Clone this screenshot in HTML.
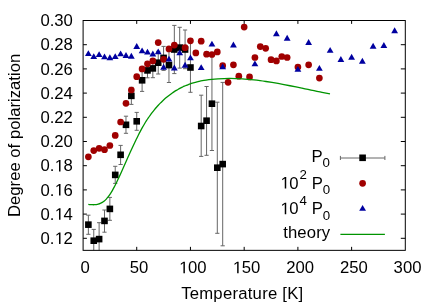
<!DOCTYPE html>
<html><head><meta charset="utf-8"><title>plot</title>
<style>
html,body{margin:0;padding:0;background:#fff;}
body{width:436px;height:305px;overflow:hidden;}
svg{display:block;will-change:transform;}
text{font-family:"Liberation Sans",sans-serif;fill:#000;}
</style></head><body>
<svg width="436" height="305" viewBox="0 0 436 305">
<rect x="0" y="0" width="436" height="305" fill="#fff"/>
<defs><clipPath id="c"><rect x="83.10" y="20.50" width="322.20" height="229.85"/></clipPath></defs>

<g stroke="#000" stroke-width="1" fill="none">
<path d="M136.72 250.35V246.85M136.72 20.50V23.90"/>
<path d="M190.45 250.35V246.85M190.45 20.50V23.90"/>
<path d="M244.18 250.35V246.85M244.18 20.50V23.90"/>
<path d="M297.90 250.35V246.85M297.90 20.50V23.90"/>
<path d="M351.62 250.35V246.85M351.62 20.50V23.90"/>
<path d="M83.10 238.30H86.90M405.30 238.30H400.80"/>
<path d="M83.10 214.10H86.90M405.30 214.10H400.80"/>
<path d="M83.10 189.90H86.90M405.30 189.90H400.80"/>
<path d="M83.10 165.70H86.90M405.30 165.70H400.80"/>
<path d="M83.10 141.50H86.90M405.30 141.50H400.80"/>
<path d="M83.10 117.30H86.90M405.30 117.30H400.80"/>
<path d="M83.10 93.10H86.90M405.30 93.10H400.80"/>
<path d="M83.10 68.90H86.90M405.30 68.90H400.80"/>
<path d="M83.10 44.70H86.90M405.30 44.70H400.80"/>
</g>
<g stroke="#666666" stroke-width="1" fill="none" clip-path="url(#c)">
<path d="M88.37 215.20V234.30M86.27 215.20H90.47M86.27 234.30H90.47"/>
<path d="M93.75 229.40V262.00M91.65 229.40H95.84M91.65 262.00H95.84"/>
<path d="M99.12 222.70V262.00M97.02 222.70H101.22M97.02 262.00H101.22"/>
<path d="M104.49 210.00V232.20M102.39 210.00H106.59M102.39 232.20H106.59"/>
<path d="M109.86 197.40V220.30M107.76 197.40H111.96M107.76 220.30H111.96"/>
<path d="M115.23 166.30V183.40M113.14 166.30H117.33M113.14 183.40H117.33"/>
<path d="M120.61 145.40V164.50M118.51 145.40H122.71M118.51 164.50H122.71"/>
<path d="M125.98 116.20V133.30M123.88 116.20H128.08M123.88 133.30H128.08"/>
<path d="M131.35 87.30V104.40M129.25 87.30H133.45M129.25 104.40H133.45"/>
<path d="M136.72 112.40V130.30M134.62 112.40H138.82M134.62 130.30H138.82"/>
<path d="M142.10 69.50V91.40M140.00 69.50H144.20M140.00 91.40H144.20"/>
<path d="M147.47 63.00V77.80M145.37 63.00H149.57M145.37 77.80H149.57"/>
<path d="M152.84 59.20V77.70M150.74 59.20H154.94M150.74 77.70H154.94"/>
<path d="M158.22 51.30V74.00M156.12 51.30H160.31M156.12 74.00H160.31"/>
<path d="M163.59 46.40V70.40M161.49 46.40H165.69M161.49 70.40H165.69"/>
<path d="M168.96 47.80V82.50M166.86 47.80H171.06M166.86 82.50H171.06"/>
<path d="M174.33 25.40V73.60M172.23 25.40H176.43M172.23 73.60H176.43"/>
<path d="M179.70 27.30V68.10M177.60 27.30H181.80M177.60 68.10H181.80"/>
<path d="M185.08 30.00V68.70M182.98 30.00H187.18M182.98 68.70H187.18"/>
<path d="M190.45 42.60V92.30M188.35 42.60H192.55M188.35 92.30H192.55"/>
<path d="M201.19 95.20V156.40M199.09 95.20H203.29M199.09 156.40H203.29"/>
<path d="M206.57 86.50V155.30M204.47 86.50H208.67M204.47 155.30H208.67"/>
<path d="M211.94 54.40V150.50M209.84 54.40H214.04M209.84 150.50H214.04"/>
<path d="M217.31 102.20V233.30M215.21 102.20H219.41M215.21 233.30H219.41"/>
<path d="M222.69 82.40V245.80M220.59 82.40H224.78M220.59 245.80H224.78"/>
</g>
<g fill="#000">
<rect x="85.07" y="221.35" width="6.60" height="6.60"/>
<rect x="90.45" y="237.40" width="6.60" height="6.60"/>
<rect x="95.82" y="235.80" width="6.60" height="6.60"/>
<rect x="101.19" y="217.60" width="6.60" height="6.60"/>
<rect x="106.56" y="205.60" width="6.60" height="6.60"/>
<rect x="111.94" y="171.60" width="6.60" height="6.60"/>
<rect x="117.31" y="151.50" width="6.60" height="6.60"/>
<rect x="122.68" y="121.50" width="6.60" height="6.60"/>
<rect x="128.05" y="92.55" width="6.60" height="6.60"/>
<rect x="133.42" y="118.00" width="6.60" height="6.60"/>
<rect x="138.80" y="77.00" width="6.60" height="6.60"/>
<rect x="144.17" y="67.10" width="6.60" height="6.60"/>
<rect x="149.54" y="65.10" width="6.60" height="6.60"/>
<rect x="154.91" y="59.40" width="6.60" height="6.60"/>
<rect x="160.29" y="54.60" width="6.60" height="6.60"/>
<rect x="165.66" y="61.80" width="6.60" height="6.60"/>
<rect x="171.03" y="46.20" width="6.60" height="6.60"/>
<rect x="176.40" y="44.30" width="6.60" height="6.60"/>
<rect x="181.78" y="46.20" width="6.60" height="6.60"/>
<rect x="187.15" y="64.20" width="6.60" height="6.60"/>
<rect x="197.89" y="122.70" width="6.60" height="6.60"/>
<rect x="203.27" y="117.40" width="6.60" height="6.60"/>
<rect x="208.64" y="100.40" width="6.60" height="6.60"/>
<rect x="214.01" y="164.40" width="6.60" height="6.60"/>
<rect x="219.38" y="160.80" width="6.60" height="6.60"/>
</g>
<g fill="#a00000">
<circle cx="88.37" cy="156.80" r="3.35"/>
<circle cx="93.75" cy="150.60" r="3.35"/>
<circle cx="99.12" cy="148.30" r="3.35"/>
<circle cx="104.49" cy="149.70" r="3.35"/>
<circle cx="109.86" cy="145.50" r="3.35"/>
<circle cx="115.23" cy="135.45" r="3.35"/>
<circle cx="120.61" cy="122.00" r="3.35"/>
<circle cx="125.98" cy="103.35" r="3.35"/>
<circle cx="131.35" cy="90.00" r="3.35"/>
<circle cx="136.72" cy="76.70" r="3.35"/>
<circle cx="142.10" cy="68.90" r="3.35"/>
<circle cx="147.47" cy="63.80" r="3.35"/>
<circle cx="152.84" cy="60.90" r="3.35"/>
<circle cx="158.22" cy="42.60" r="3.35"/>
<circle cx="163.59" cy="59.30" r="3.35"/>
<circle cx="168.96" cy="48.95" r="3.35"/>
<circle cx="174.33" cy="45.10" r="3.35"/>
<circle cx="185.08" cy="47.70" r="3.35"/>
<circle cx="190.45" cy="40.80" r="3.35"/>
<circle cx="195.82" cy="52.90" r="3.35"/>
<circle cx="201.19" cy="41.20" r="3.35"/>
<circle cx="206.57" cy="54.20" r="3.35"/>
<circle cx="211.94" cy="54.50" r="3.35"/>
<circle cx="217.31" cy="51.95" r="3.35"/>
<circle cx="222.69" cy="65.70" r="3.35"/>
<circle cx="228.06" cy="82.30" r="3.35"/>
<circle cx="233.43" cy="64.80" r="3.35"/>
<circle cx="238.80" cy="76.15" r="3.35"/>
<circle cx="244.18" cy="27.10" r="3.35"/>
<circle cx="249.55" cy="76.90" r="3.35"/>
<circle cx="254.92" cy="57.50" r="3.35"/>
<circle cx="260.29" cy="46.60" r="3.35"/>
<circle cx="265.66" cy="48.30" r="3.35"/>
<circle cx="271.04" cy="59.70" r="3.35"/>
<circle cx="276.41" cy="60.90" r="3.35"/>
<circle cx="281.78" cy="56.50" r="3.35"/>
<circle cx="287.15" cy="57.50" r="3.35"/>
<circle cx="297.90" cy="67.10" r="3.35"/>
<circle cx="308.64" cy="64.80" r="3.35"/>
<circle cx="319.39" cy="78.10" r="3.35"/>
</g>
<g fill="#0000a0">
<path d="M88.37 50.15L91.77 56.05L84.97 56.05Z"/>
<path d="M93.75 53.15L97.15 59.05L90.34 59.05Z"/>
<path d="M99.12 51.15L102.52 57.05L95.72 57.05Z"/>
<path d="M104.49 53.45L107.89 59.35L101.09 59.35Z"/>
<path d="M109.86 54.25L113.26 60.15L106.46 60.15Z"/>
<path d="M115.23 53.15L118.64 59.05L111.83 59.05Z"/>
<path d="M120.61 50.45L124.01 56.35L117.21 56.35Z"/>
<path d="M125.98 52.05L129.38 57.95L122.58 57.95Z"/>
<path d="M131.35 52.75L134.75 58.65L127.95 58.65Z"/>
<path d="M136.72 43.05L140.12 48.95L133.32 48.95Z"/>
<path d="M142.10 47.45L145.50 53.35L138.70 53.35Z"/>
<path d="M147.47 48.65L150.87 54.55L144.07 54.55Z"/>
<path d="M152.84 50.55L156.24 56.45L149.44 56.45Z"/>
<path d="M158.22 48.45L161.62 54.35L154.81 54.35Z"/>
<path d="M163.59 63.85L166.99 69.75L160.19 69.75Z"/>
<path d="M168.96 55.65L172.36 61.55L165.56 61.55Z"/>
<path d="M174.33 64.55L177.73 70.45L170.93 70.45Z"/>
<path d="M179.70 49.35L183.10 55.25L176.30 55.25Z"/>
<path d="M185.08 61.85L188.48 67.75L181.68 67.75Z"/>
<path d="M190.45 54.45L193.85 60.35L187.05 60.35Z"/>
<path d="M201.19 64.15L204.59 70.05L197.79 70.05Z"/>
<path d="M211.94 40.70L215.34 46.60L208.54 46.60Z"/>
<path d="M222.69 63.45L226.09 69.35L219.28 69.35Z"/>
<path d="M233.43 41.60L236.83 47.50L230.03 47.50Z"/>
<path d="M254.92 60.45L258.32 66.35L251.52 66.35Z"/>
<path d="M276.41 30.25L279.81 36.15L273.01 36.15Z"/>
<path d="M287.15 34.75L290.55 40.65L283.75 40.65Z"/>
<path d="M297.90 65.95L301.30 71.85L294.50 71.85Z"/>
<path d="M308.64 39.05L312.04 44.95L305.25 44.95Z"/>
<path d="M319.39 64.95L322.79 70.85L315.99 70.85Z"/>
<path d="M330.13 46.95L333.53 52.85L326.74 52.85Z"/>
<path d="M340.88 56.05L344.28 61.95L337.48 61.95Z"/>
<path d="M351.62 53.75L355.02 59.65L348.23 59.65Z"/>
<path d="M362.37 57.85L365.77 63.75L358.97 63.75Z"/>
<path d="M373.12 42.85L376.51 48.75L369.72 48.75Z"/>
<path d="M383.86 42.05L387.26 47.95L380.46 47.95Z"/>
<path d="M394.61 27.35L398.00 33.25L391.21 33.25Z"/>
</g>
<path d="M88.30 204.36C88.63 204.40 89.63 204.52 90.30 204.58C90.97 204.64 91.63 204.69 92.30 204.71C92.97 204.73 93.63 204.75 94.30 204.72C94.97 204.69 95.63 204.65 96.30 204.55C96.97 204.45 97.63 204.32 98.30 204.14C98.97 203.95 99.63 203.73 100.30 203.44C100.97 203.15 101.63 202.81 102.30 202.40C102.97 201.99 103.63 201.51 104.30 200.96C104.97 200.41 105.63 199.79 106.30 199.08C106.97 198.37 107.63 197.57 108.30 196.70C108.97 195.82 109.63 194.86 110.30 193.83C110.97 192.81 111.63 191.71 112.30 190.55C112.97 189.40 113.63 188.17 114.30 186.90C114.97 185.63 115.63 184.31 116.30 182.96C116.97 181.61 117.63 180.20 118.30 178.78C118.97 177.36 119.63 175.90 120.30 174.43C120.97 172.96 121.63 171.47 122.30 169.97C122.97 168.47 123.63 166.96 124.30 165.46C124.97 163.96 125.63 162.46 126.30 160.96C126.97 159.46 127.63 157.97 128.30 156.48C128.97 154.99 129.63 153.51 130.30 152.04C130.97 150.57 131.63 149.12 132.30 147.68C132.97 146.24 133.63 144.81 134.30 143.41C134.97 142.01 135.63 140.62 136.30 139.26C136.97 137.90 137.63 136.55 138.30 135.24C138.97 133.93 139.63 132.64 140.30 131.38C140.97 130.12 141.63 128.88 142.30 127.69C142.97 126.50 143.63 125.34 144.30 124.22C144.97 123.10 145.63 122.00 146.30 120.95C146.97 119.90 147.63 118.88 148.30 117.89C148.97 116.90 149.63 115.95 150.30 115.02C150.97 114.09 151.63 113.20 152.30 112.33C152.97 111.46 153.63 110.62 154.30 109.81C154.97 109.00 155.63 108.21 156.30 107.45C156.97 106.69 157.63 105.95 158.30 105.23C158.97 104.51 159.63 103.82 160.30 103.15C160.97 102.48 161.63 101.83 162.30 101.19C162.97 100.55 163.63 99.94 164.30 99.34C164.97 98.74 165.63 98.16 166.30 97.60C166.97 97.04 167.63 96.50 168.30 95.97C168.97 95.44 169.63 94.93 170.30 94.43C170.97 93.93 171.63 93.45 172.30 92.99C172.97 92.52 173.63 92.08 174.30 91.64C174.97 91.20 175.63 90.78 176.30 90.38C176.97 89.97 177.63 89.59 178.30 89.21C178.97 88.83 179.63 88.47 180.30 88.12C180.97 87.77 181.63 87.44 182.30 87.12C182.97 86.80 183.63 86.48 184.30 86.18C184.97 85.88 185.63 85.59 186.30 85.32C186.97 85.04 187.63 84.78 188.30 84.53C188.97 84.28 189.63 84.04 190.30 83.81C190.97 83.58 191.63 83.36 192.30 83.15C192.97 82.94 193.63 82.74 194.30 82.55C194.97 82.36 195.63 82.18 196.30 82.01C196.97 81.84 197.68 81.66 198.30 81.51C198.92 81.36 198.72 81.37 200.00 81.13C201.28 80.89 204.00 80.35 206.00 80.05C208.00 79.75 210.00 79.51 212.00 79.30C214.00 79.09 216.00 78.94 218.00 78.81C220.00 78.68 222.00 78.59 224.00 78.53C226.00 78.47 228.00 78.44 230.00 78.45C232.00 78.46 234.00 78.50 236.00 78.57C238.00 78.64 240.00 78.74 242.00 78.86C244.00 78.98 246.00 79.14 248.00 79.31C250.00 79.48 252.00 79.69 254.00 79.91C256.00 80.13 258.00 80.38 260.00 80.64C262.00 80.90 264.00 81.19 266.00 81.49C268.00 81.79 270.00 82.11 272.00 82.44C274.00 82.77 276.00 83.11 278.00 83.47C280.00 83.83 282.00 84.20 284.00 84.58C286.00 84.96 288.00 85.35 290.00 85.75C292.00 86.15 294.00 86.55 296.00 86.96C298.00 87.37 300.00 87.79 302.00 88.21C304.00 88.63 306.00 89.04 308.00 89.46C310.00 89.88 312.00 90.29 314.00 90.71C316.00 91.12 318.00 91.54 320.00 91.95C322.00 92.36 324.33 92.83 326.00 93.16C327.67 93.49 329.33 93.81 330.00 93.94" stroke="#009400" stroke-width="1.3" fill="none" stroke-linecap="butt"/>
<rect x="83.10" y="20.50" width="322.20" height="229.85" fill="none" stroke="#000" stroke-width="1"/>
<g stroke="#666666" stroke-width="1" fill="none"><path d="M340.4 158H384.9M340.4 155.9V160M384.9 155.9V160"/></g>
<rect x="359.30" y="154.50" width="6.60" height="6.60" fill="#000"/>
<circle cx="362.60" cy="183.3" r="3.35" fill="#a00000"/>
<path d="M362.60 204.95L366.00 210.85L359.20 210.85Z" fill="#0000a0"/>
<path d="M340.4 234.35H384.9" stroke="#009400" stroke-width="1.4"/>
<g font-size="16.7px">
<text x="330" y="162" text-anchor="end">P<tspan font-size="13.3px" dy="5.3">0</tspan></text>
<path transform="translate(280.552 188.600) scale(0.008154 -0.008154)" d="M515 0V1237L197 1010V1180L530 1409H696V0Z" fill="#000"/><text x="289.340" y="188.60" font-size="16.70px">0</text>
<text x="299.528" y="179.40" font-size="13.30px">2</text>
<text x="311.664" y="188.60" font-size="16.70px">P</text>
<text x="322.803" y="193.90" font-size="13.30px">0</text>
<path transform="translate(280.552 214.200) scale(0.008154 -0.008154)" d="M515 0V1237L197 1010V1180L530 1409H696V0Z" fill="#000"/><text x="289.340" y="214.20" font-size="16.70px">0</text>
<text x="299.528" y="205.00" font-size="13.30px">4</text>
<text x="311.664" y="214.20" font-size="16.70px">P</text>
<text x="322.803" y="219.50" font-size="13.30px">0</text>
<text x="330.3" y="238.2" text-anchor="end" letter-spacing="0.12">theory</text>
</g>
<g font-size="16.7px">
<path transform="translate(54.825 244.000) scale(0.008154 -0.008154)" d="M515 0V1237L197 1010V1180L530 1409H696V0Z" fill="#000"/><text x="40.397 49.685 63.612" y="244.00" font-size="16.70px">0.2</text>
<path transform="translate(54.825 219.800) scale(0.008154 -0.008154)" d="M515 0V1237L197 1010V1180L530 1409H696V0Z" fill="#000"/><text x="40.397 49.685 63.612" y="219.80" font-size="16.70px">0.4</text>
<path transform="translate(54.825 195.600) scale(0.008154 -0.008154)" d="M515 0V1237L197 1010V1180L530 1409H696V0Z" fill="#000"/><text x="40.397 49.685 63.612" y="195.60" font-size="16.70px">0.6</text>
<path transform="translate(54.825 171.400) scale(0.008154 -0.008154)" d="M515 0V1237L197 1010V1180L530 1409H696V0Z" fill="#000"/><text x="40.397 49.685 63.612" y="171.40" font-size="16.70px">0.8</text>
<text x="40.397 49.685 54.325 63.612" y="147.20" font-size="16.70px">0.20</text>
<text x="40.397 49.685 54.325 63.612" y="123.00" font-size="16.70px">0.22</text>
<text x="40.397 49.685 54.325 63.612" y="98.80" font-size="16.70px">0.24</text>
<text x="40.397 49.685 54.325 63.612" y="74.60" font-size="16.70px">0.26</text>
<text x="40.397 49.685 54.325 63.612" y="50.40" font-size="16.70px">0.28</text>
<text x="40.397 49.685 54.325 63.612" y="26.20" font-size="16.70px">0.30</text>
<text x="80.556" y="273.20" font-size="16.70px">0</text>
<text x="129.637 138.925" y="273.20" font-size="16.70px">50</text>
<path transform="translate(179.218 273.200) scale(0.008154 -0.008154)" d="M515 0V1237L197 1010V1180L530 1409H696V0Z" fill="#000"/><text x="188.006 197.294" y="273.20" font-size="16.70px">00</text>
<path transform="translate(232.943 273.200) scale(0.008154 -0.008154)" d="M515 0V1237L197 1010V1180L530 1409H696V0Z" fill="#000"/><text x="241.731 251.019" y="273.20" font-size="16.70px">50</text>
<text x="286.168 295.456 304.744" y="273.20" font-size="16.70px">200</text>
<text x="339.893 349.181 358.469" y="273.20" font-size="16.70px">250</text>
<text x="393.618 402.906 412.194" y="273.20" font-size="16.70px">300</text>
<text x="242.3" y="298.7" text-anchor="middle" letter-spacing="0.24">Temperature [K]</text>
<text transform="translate(19.8 135.4) rotate(-90)" text-anchor="middle">Degree of polarization</text>
</g>
</svg></body></html>
